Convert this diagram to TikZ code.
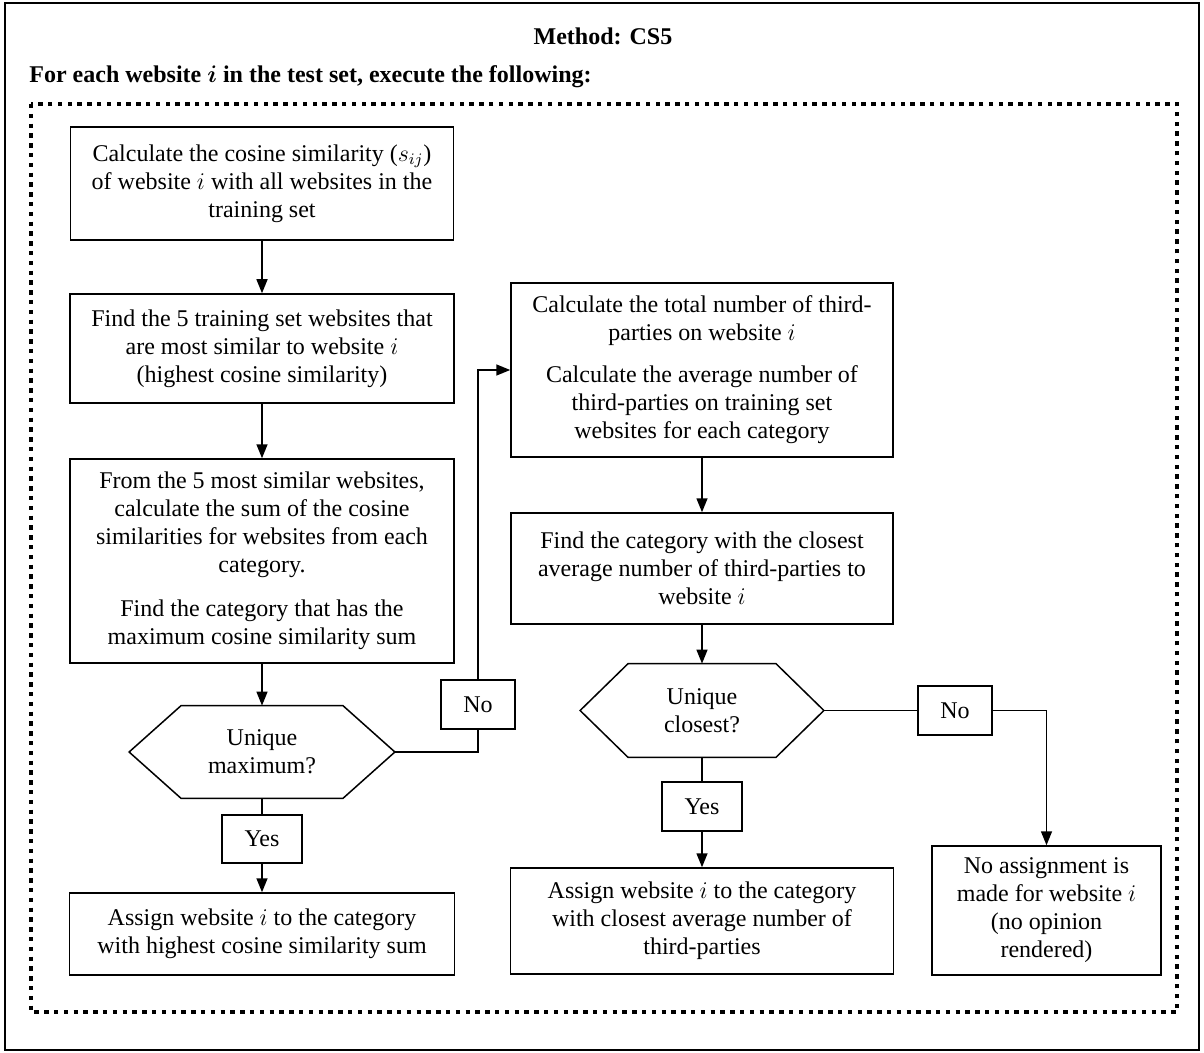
\documentclass[tikz,border=0pt]{standalone}
\usepackage{amsmath}
\usepackage{fontspec}
\setmainfont{Liberation Serif}
\usepackage{tikz}
\usetikzlibrary{arrows.meta}

\tikzset{
	box/.style={draw, line width=0.75pt, rectangle, inner sep=0pt, align=center, font=\fontsize{12}{14}\selectfont},
	hexnode/.style={inner sep=0pt, align=center, font=\fontsize{12}{14}\selectfont},
	arrow/.style={line width=0.75pt, -{Triangle[width=5.5pt,length=7pt]}},
	conn/.style={line width=0.75pt},
}

% hexagon around an (invisible) node: name, tip length
\newcommand{\hexframe}[2]{%
	\draw[conn] (#1.west) -- ([xshift=#2]#1.north west) -- ([xshift=-#2]#1.north east) -- (#1.east)
	-- ([xshift=-#2]#1.south east) -- ([xshift=#2]#1.south west) -- cycle;}

\begin{document}
\begin{tikzpicture}[x=0.5pt,y=-0.5pt]
			
			\useasboundingbox (0,0) rectangle (1204,1053);
			%\draw[gray, dashed] (0,0) grid[step=100] (1204,1053);
			
			% frames
			\draw[line width=1pt] (5,3) rectangle (1199,1050);
			\draw[line width=2.2pt, dash pattern=on 2.2pt off 2.7pt] (31,104) rectangle (1177,1012);
			
			\node[font=\fontsize{12}{14}\selectfont\bfseries] (title) at (603,36) {Method: CS5};
			\node[font=\fontsize{12}{14}\selectfont\bfseries, anchor=west, inner sep=0pt] (loop) at (29,77) {For each website $\boldsymbol{i}$ in the test set, execute the following:};
			
			% left column
			\node[box, minimum width=191.5pt, minimum height=56.5pt] (cosine) at (262,183.5)
				{Calculate the cosine similarity ($s_{ij}$)\\ of website $i$ with all websites in the\\ training set};
			\node[box, minimum width=192pt, minimum height=54.5pt] (topfive) at (262,348.5)
				{Find the 5 training set websites that\\ are most similar to website $i$\\ (highest cosine similarity)};
			\node[box, minimum width=192pt, minimum height=102pt] (cossum) at (262,561)
				{From the 5 most similar websites,\\ calculate the sum of the cosine\\ similarities for websites from each\\ category.\\[8pt] Find the category that has the\\ maximum cosine similarity sum};
			\node[hexnode, minimum width=132.5pt, minimum height=46pt] (uniqmax) at (262,752) {Unique\\ maximum?};
			\hexframe{uniqmax}{26pt}
			\node[box, minimum width=40pt, minimum height=24pt] (yesmax) at (262,839) {Yes};
			\node[box, minimum width=192.5pt, minimum height=41pt] (assignmax) at (262,934)
				{Assign website $i$ to the category\\ with highest cosine similarity sum};
			\node[box, minimum width=37pt, minimum height=24.5pt] (nomax) at (478,704.5) {No};
			
			% right column
			\node[box, minimum width=191pt, minimum height=87pt] (thirdp) at (702,370)
				{Calculate the total number of third-\\ parties on website $i$\\[7pt] Calculate the average number of\\ third-parties on training set\\ websites for each category};
			\node[box, minimum width=191pt, minimum height=55.5pt] (closest) at (702,568.5)
				{Find the category with the closest\\ average number of third-parties to\\ website $i$};
			\node[hexnode, minimum width=121.5pt, minimum height=46.5pt] (uniqclose) at (702,710.5) {Unique\\ closest?};
			\hexframe{uniqclose}{24pt}
			\node[box, minimum width=40pt, minimum height=24.5pt] (yesclose) at (702,806.5) {Yes};
			\node[box, minimum width=191.5pt, minimum height=53pt] (assignclose) at (702,921)
				{Assign website $i$ to the category\\ with closest average number of\\ third-parties};
			\node[box, minimum width=37pt, minimum height=24.5pt] (noclose) at (955,710.5) {No};
			\node[box, minimum width=114.5pt, minimum height=64.5pt] (noassign) at (1046.5,910.5)
				{No assignment is\\ made for website $i$\\ (no opinion\\ rendered)};
			
			% connectors
			\draw[arrow] (cosine) -- (topfive);
			\draw[arrow] (topfive) -- (cossum);
			\draw[arrow] (cossum) -- (uniqmax.north);
			\draw[conn] (uniqmax.south) -- (yesmax);
			\draw[arrow] (yesmax) -- (assignmax);
			\draw[conn] (uniqmax.east) -| (nomax.south);
			\draw[arrow] (nomax.north) |- (thirdp.west);
			
			\draw[arrow] (thirdp) -- (closest);
			\draw[arrow] (closest) -- (uniqclose.north);
			\draw[conn] (uniqclose.south) -- (yesclose);
			\draw[arrow] (yesclose) -- (assignclose);
			\draw[conn] (uniqclose.east) -- (noclose.west);
			\draw[arrow] (noclose.east) -| (noassign.north);
			
		\end{tikzpicture}
\end{document}
